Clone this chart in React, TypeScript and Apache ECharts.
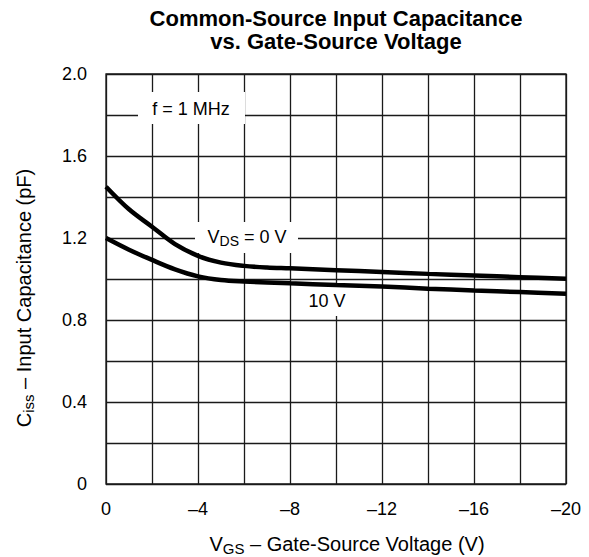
import React, { useEffect, useRef } from 'react';
import * as echarts from 'echarts';

// VDS = 0 V curve
const vgsVds0 = [0, -1, -2, -3, -4, -5, -6, -7, -8, -10, -12, -14, -16, -18, -20];
const cissVds0 = [1.45, 1.34, 1.255, 1.17, 1.113, 1.08, 1.064, 1.056, 1.052, 1.043, 1.034, 1.025, 1.017, 1.009, 1.001];
// VDS = 10 V curve
const vgsVds10 = [0, -1, -2, -3, -4, -5, -6, -8, -10, -12, -14, -16, -18, -20];
const cissVds10 = [1.2, 1.143, 1.093, 1.047, 1.013, 0.995, 0.988, 0.979, 0.971, 0.963, 0.953, 0.944, 0.936, 0.928];

const xLabelValues = [0, -4, -8, -12, -16, -20];
const yLabelValues = [0, 0.4, 0.8, 1.2, 1.6, 2.0];

const FONT = '"Liberation Sans", Arial, Helvetica, sans-serif';

export default function App() {
  const ref = useRef<HTMLDivElement>(null);
  useEffect(() => {
    document.body.style.margin = '0';
    if (!ref.current) return;
    const chart = echarts.init(ref.current, null, { renderer: 'svg' });
    const gridColor = '#1a1a1a';
    const pair = (xs: number[], ys: number[]) => xs.map((x, i) => [x, ys[i]]);
    const richMain = { fontSize: 18, fontFamily: FONT, color: '#000' };
    const richSub = { fontSize: 14, fontFamily: FONT, color: '#000', padding: [8, 0, 0, 0] };
    const nameMain = { fontSize: 20, fontFamily: FONT, color: '#000' };
    const nameSub = { fontSize: 15, fontFamily: FONT, color: '#000', padding: [8, 0, 0, 0] };
    chart.setOption({
      animation: false,
      backgroundColor: '#fff',
      grid: { left: 106, right: 23, top: 74, bottom: 73, show: true, borderColor: gridColor, borderWidth: 1.3 },
      xAxis: {
        type: 'value', min: -20, max: 0, interval: 2, inverse: true,
        axisLine: { show: false }, axisTick: { show: false },
        splitLine: { show: true, lineStyle: { color: gridColor, width: 1.3 } },
        axisLabel: {
          margin: 16, fontSize: 18, fontFamily: FONT, color: '#000',
          formatter: (v: number) => xLabelValues.some((t) => Math.abs(t - v) < 1e-6) ? (v === 0 ? '0' : '\u2013' + Math.abs(v)) : '',
        },
      },
      yAxis: {
        type: 'value', min: 0, max: 2, interval: 0.2,
        axisLine: { show: false }, axisTick: { show: false },
        splitLine: { show: true, lineStyle: { color: gridColor, width: 1.3 } },
        axisLabel: {
          margin: 19, fontSize: 18, fontFamily: FONT, color: '#000',
          formatter: (v: number) => yLabelValues.some((t) => Math.abs(t - v) < 1e-6) ? (Math.abs(v) < 1e-6 ? '0' : v.toFixed(1)) : '',
        },
      },
      series: [
        {
          type: 'line', data: pair(vgsVds0, cissVds0), smooth: 0.35, showSymbol: false, z: 5,
          lineStyle: { color: '#000', width: 4.5 },
        },
        {
          type: 'line', data: pair(vgsVds10, cissVds10), smooth: 0.35, showSymbol: false, z: 5,
          lineStyle: { color: '#000', width: 4.5 },
        },
      ],
      graphic: [
        {
          type: 'text', x: 336, y: 7, z: 10,
          style: {
            text: 'Common-Source Input Capacitance',
            font: 'bold 22px ' + FONT, fill: '#000', align: 'center', verticalAlign: 'top',
          },
        },
        {
          type: 'text', x: 336, y: 30, z: 10,
          style: {
            text: 'vs. Gate-Source Voltage',
            font: 'bold 22px ' + FONT, fill: '#000', align: 'center', verticalAlign: 'top',
          },
        },
        { type: 'rect', z: 1, shape: { x: 138, y: 92, width: 107, height: 32 }, style: { fill: '#fff' } },
        {
          type: 'text', x: 191, y: 109, z: 10,
          style: { text: 'f = 1 MHz', font: '18px ' + FONT, fill: '#000', align: 'center', verticalAlign: 'middle' },
        },
        { type: 'rect', z: 1, shape: { x: 195, y: 222, width: 103, height: 31 }, style: { fill: '#fff' } },
        {
          type: 'text', x: 247, y: 237, z: 10,
          style: {
            text: '{a|V}{b|DS}{a| = 0 V}', align: 'center', verticalAlign: 'middle',
            rich: { a: richMain, b: richSub },
          },
        },
        { type: 'rect', z: 1, shape: { x: 300, y: 285, width: 50, height: 31 }, style: { fill: '#fff' } },
        {
          type: 'text', x: 327, y: 301, z: 10,
          style: { text: '10 V', font: '18px ' + FONT, fill: '#000', align: 'center', verticalAlign: 'middle' },
        },
        {
          type: 'text', x: 347, y: 544, z: 10,
          style: {
            text: '{a|V}{b|GS}{a| \u2013 Gate-Source Voltage (V)}', align: 'center', verticalAlign: 'middle',
            rich: { a: nameMain, b: nameSub },
          },
        },
        {
          type: 'text', x: 24, y: 298, z: 10, rotation: Math.PI / 2,
          style: {
            text: '{a|C}{b|iss}{a| \u2013 Input Capacitance (pF)}', align: 'center', verticalAlign: 'middle',
            rich: { a: nameMain, b: nameSub },
          },
        },
      ],
    });
    return () => chart.dispose();
  }, []);
  return <div ref={ref} style={{ width: 589, height: 557 }} />;
}
